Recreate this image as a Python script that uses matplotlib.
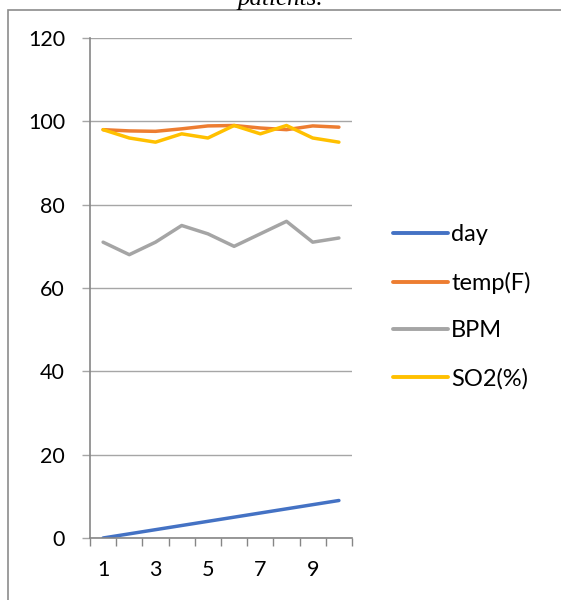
"""Daily vitals line chart: day, temperature, heart rate and oxygen saturation."""

import matplotlib
matplotlib.use("Agg")
import matplotlib.pyplot as plt
from matplotlib.patches import Rectangle
from matplotlib.ticker import FixedLocator

days = [1, 2, 3, 4, 5, 6, 7, 8, 9, 10]
day_vals = [0, 1, 2, 3, 4, 5, 6, 7, 8, 9]
temp_f = [98.0, 97.7, 97.6, 98.2, 98.9, 99.0, 98.4, 98.0, 98.9, 98.6]
bpm = [71, 68, 71, 75, 73, 70, 73, 76, 71, 72]
so2 = [98, 96, 95, 97, 96, 99, 97, 99, 96, 95]

series = [
    ("day", day_vals, "#4472C4"),
    ("temp(F)", temp_f, "#ED7D31"),
    ("BPM", bpm, "#A5A5A5"),
    ("SO2(%)", so2, "#FFC000"),
]

W, H = 561, 600
plt.rcParams["font.family"] = ["Lato", "DejaVu Sans"]

fig = plt.figure(figsize=(W / 100, H / 100), dpi=100)
ax = fig.add_axes([90 / W, 1 - 538 / H, 262 / W, 500 / H])

# chart frame (left and top edges show, the rest runs off the page)
fig.patches.append(Rectangle((7.5 / W, -0.1), 1.2, 1 - 9.5 / H + 0.1,
                             transform=fig.transFigure, fill=False,
                             edgecolor="#8C8C8C", linewidth=1.2))
fig.text(0.5, 1 - 5 / H, "patients.", ha="center", va="baseline",
         family="Liberation Serif", style="italic", fontsize=18)

for name, vals, color in series:
    ax.plot(days, vals, color=color, linewidth=2.5, label=name,
            solid_capstyle="round", solid_joinstyle="round")

ax.set_xlim(0.5, 10.5)
ax.set_ylim(0, 120)
ax.set_yticks(range(0, 121, 20))
ax.set_xticks([1, 3, 5, 7, 9])
ax.xaxis.set_minor_locator(FixedLocator([i + 0.5 for i in range(0, 11)]))

ax.grid(axis="y", color="#A6A6A6", linewidth=1.0)
ax.set_axisbelow(True)
for side in ("top", "right"):
    ax.spines[side].set_visible(False)
for side in ("left", "bottom"):
    ax.spines[side].set_color("#868686")
    ax.spines[side].set_linewidth(1.2)

ax.tick_params(axis="y", length=6, color="#A6A6A6", width=1.0,
               pad=12, labelsize=15.5)
ax.tick_params(axis="x", which="major", length=0, pad=16, labelsize=15.5)
ax.tick_params(axis="x", which="minor", length=6, color="#868686", width=1.0)

leg = ax.legend(loc="upper left", bbox_to_anchor=(384 / W, 1 - 215 / H),
                bbox_transform=fig.transFigure, frameon=False, fontsize=17,
                handlelength=2.3, handletextpad=0.15, labelspacing=1.12,
                borderaxespad=0)
for line in leg.get_lines():
    line.set_linewidth(2.8)

fig.savefig("out.png", dpi=100)
